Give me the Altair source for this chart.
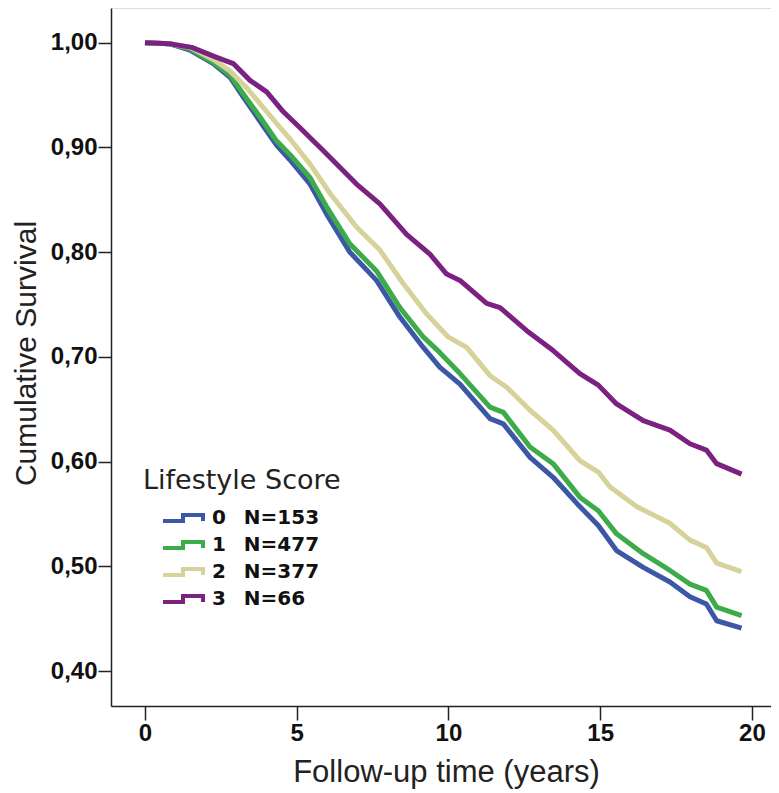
import altair as alt
import pandas as pd

# ---- data ----
groups = ["0", "1", "2", "3"]
group_n = [153, 477, 377, 66]
colors = ["#3c57a6", "#3dab4a", "#d6d29a", "#7b2181"]

t_0 = [0, 0.8, 1.48, 2.25, 2.8, 3.24, 3.79, 4.34, 4.78, 5.44, 5.99, 6.75, 7.63, 8.4, 9.17,
       9.72, 10.38, 11.37, 11.81, 12.69, 13.45, 14.33, 14.94, 15.54, 16.42, 17.3, 17.96,
       18.5, 18.84, 19.66]
s_0 = [1.0, 0.999, 0.993, 0.980, 0.967, 0.948, 0.925, 0.902, 0.888, 0.865, 0.836, 0.800,
       0.773, 0.738, 0.709, 0.690, 0.674, 0.641, 0.636, 0.604, 0.585, 0.557, 0.539, 0.515,
       0.499, 0.485, 0.471, 0.464, 0.448, 0.441]

t_1 = [0, 0.8, 1.48, 2.25, 2.8, 3.24, 3.79, 4.34, 4.78, 5.44, 5.99, 6.75, 7.63, 8.4, 9.17,
       9.72, 10.38, 11.37, 11.81, 12.69, 13.45, 14.33, 14.94, 15.54, 16.42, 17.3, 17.96,
       18.5, 18.84, 19.66]
s_1 = [1.0, 0.999, 0.994, 0.981, 0.969, 0.951, 0.929, 0.906, 0.893, 0.871, 0.843, 0.808,
       0.782, 0.747, 0.719, 0.704, 0.684, 0.652, 0.647, 0.614, 0.598, 0.566, 0.553, 0.531,
       0.512, 0.496, 0.483, 0.477, 0.461, 0.453]

t_2 = [0, 0.8, 1.48, 2.25, 2.8, 3.35, 3.9, 4.45, 4.78, 5.44, 6.1, 6.97, 7.74, 8.51, 9.28,
       9.99, 10.6, 11.37, 11.92, 12.69, 13.45, 14.33, 14.94, 15.32, 16.2, 17.3, 17.96,
       18.5, 18.84, 19.66]
s_2 = [1.0, 0.999, 0.9955, 0.984, 0.973, 0.957, 0.938, 0.919, 0.908, 0.884, 0.856, 0.824,
       0.802, 0.770, 0.741, 0.719, 0.709, 0.682, 0.671, 0.649, 0.630, 0.601, 0.590, 0.576,
       0.557, 0.541, 0.525, 0.518, 0.503, 0.495]

t_3 = [0, 0.8, 1.54, 2.36, 2.91, 3.46, 4.01, 4.56, 5.1, 5.87, 6.97, 7.74, 8.62, 9.39, 9.94,
       10.38, 11.26, 11.7, 12.58, 13.45, 14.33, 14.94, 15.54, 16.42, 17.3, 17.96, 18.5,
       18.84, 19.66]
s_3 = [1.0, 0.999, 0.9955, 0.986, 0.980, 0.964, 0.953, 0.934, 0.919, 0.897, 0.865, 0.846,
       0.817, 0.798, 0.779, 0.773, 0.751, 0.747, 0.725, 0.706, 0.684, 0.673, 0.655, 0.639,
       0.630, 0.617, 0.611, 0.598, 0.588]

x_ticks = [0, 5, 10, 15, 20]
y_ticks = [0.4, 0.5, 0.6, 0.7, 0.8, 0.9, 1.0]

# ---- build table ----
times = [t_0, t_1, t_2, t_3]
survs = [s_0, s_1, s_2, s_3]
labels = [f"{g}\u00a0\u00a0\u2009N={n}" for g, n in zip(groups, group_n)]
rows = []
for lab, ts, ss in zip(labels, times, survs):
    for t, s in zip(ts, ss):
        rows.append({"t": t, "s": s, "label": lab})
df = pd.DataFrame(rows)

x_axis = alt.Axis(
    values=x_ticks, format="d", title="Follow-up time (years)", grid=False,
    domainColor="#222222", domainWidth=1.5, tickColor="#222222", tickWidth=1.5,
    tickSize=14, labelFont="Liberation Sans", labelFontSize=24, labelFontWeight="bold",
    labelColor="#111111", labelPadding=1, titleFont="Liberation Sans", titleFontSize=31,
    titleFontWeight="normal", titleColor="#222222", titleBaseline="alphabetic",
    titleY=75, titleX=335,
)
y_axis = alt.Axis(
    values=y_ticks, labelExpr="replace(format(datum.value, '.2f'), '.', ',')",
    title="Cumulative Survival", grid=False,
    domainColor="#222222", domainWidth=1.5, tickColor="#222222", tickWidth=1.5,
    tickSize=13, labelFont="Liberation Sans", labelFontSize=24, labelFontWeight="bold",
    labelColor="#111111", labelPadding=1, titleFont="Liberation Sans", titleFontSize=30,
    titleFontWeight="normal", titleColor="#222222", titleAngle=270,
    titleBaseline="alphabetic", titleAlign="center", titleX=-76, titleY=345,
)

legend = alt.Legend(
    title="Lifestyle Score", orient="none", legendX=32, legendY=460, padding=0,
    titleFont="DejaVu Sans", titleFontSize=27, titleFontWeight="normal",
    titleColor="#222222", titlePadding=11, titleLimit=400,
    labelFont="DejaVu Sans", labelFontSize=20, labelFontWeight="bold", labelColor="#111111",
    labelLimit=400,
    symbolType="M-1,0.3H1V-0.3H3V0.3", symbolSize=400, symbolStrokeWidth=4,
    symbolOffset=18, labelOffset=27, rowPadding=4,
)

chart = alt.Chart(df).mark_line(strokeWidth=5, strokeJoin="round").encode(
    x=alt.X("t:Q", scale=alt.Scale(domain=[-1.12, 20.63], nice=False, zero=False), axis=x_axis),
    y=alt.Y("s:Q", scale=alt.Scale(domain=[0.3666, 1.0331], nice=False, zero=False), axis=y_axis),
    color=alt.Color("label:N", scale=alt.Scale(domain=labels, range=colors), legend=legend),
).properties(
    width=660, height=698,
    padding={"left": 103, "top": 0, "right": 0, "bottom": 85},
    autosize="none",
).configure_view(stroke=None).configure(background="white")

chart.save("out.html", embed_options={"renderer": "svg", "actions": False})
